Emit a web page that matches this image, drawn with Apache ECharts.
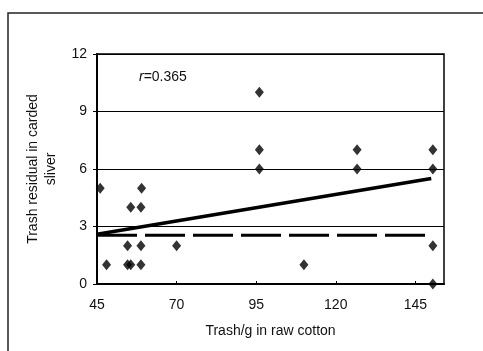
<!DOCTYPE html>
<html>
<head>
<meta charset="utf-8">
<script src="https://cdn.jsdelivr.net/npm/echarts@6/dist/echarts.min.js"></script>
<style>
html,body{margin:0;padding:0;background:#fff;}
#c{width:483px;height:351px;}
</style>
</head>
<body>
<div id="c"></div>
<script>
// Scatter points: x = trash/g in raw cotton, y = trash residual in carded sliver
var pointsX = [46, 59, 55.6, 58.8, 54.6, 58.8, 70, 48, 54.6, 55.6, 58.8, 96, 96, 96, 126.7, 126.7, 150.5, 150.5, 150.5, 110, 150.5];
var pointsY = [5, 5, 4, 4, 2, 2, 2, 1, 1, 1, 1, 10, 7, 6, 7, 6, 7, 6, 2, 1, 0];
// Regression (solid) line end points
var fitX = [45, 150];
var fitY = [2.6, 5.5];
// Dashed reference line
var refX = [45, 150];
var refY = [2.55, 2.55];
var xTicks = [45, 70, 95, 120, 145];
var yTicks = [0, 3, 6, 9, 12];
var corrLabel = '0.365';

var chart = echarts.init(document.getElementById('c'), null, {renderer: 'canvas'});
var font = 'Liberation Sans';
var scatterData = pointsX.map(function (x, i) { return [x, pointsY[i]]; });
var fitData = fitX.map(function (x, i) { return [x, fitY[i]]; });
var refData = refX.map(function (x, i) { return [x, refY[i]]; });

chart.setOption({
  backgroundColor: '#fff',
  animation: false,
  textStyle: {fontFamily: font},
  grid: {left: 97, right: 39, top: 54, bottom: 67, show: true, borderColor: '#000', borderWidth: 1.5, backgroundColor: 'transparent'},
  xAxis: {
    type: 'value', min: 45, max: 154, interval: 25,
    name: 'Trash/g in raw cotton', nameLocation: 'middle', nameGap: 40,
    nameTextStyle: {color: '#111', fontSize: 14, fontFamily: font},
    axisLine: {lineStyle: {color: '#000', width: 2}},
    axisTick: {show: true, length: 3, inside: true, lineStyle: {color: '#000'}},
    splitLine: {show: false},
    axisLabel: {color: '#111', fontSize: 14, margin: 14, fontFamily: font, showMaxLabel: false,
      formatter: function (v) { return xTicks.indexOf(v) >= 0 ? String(v) : ''; }}
  },
  yAxis: {
    type: 'value', min: 0, max: 12, interval: 3,
    name: 'Trash residual in carded\nsliver', nameLocation: 'middle', nameGap: 36,
    nameTextStyle: {color: '#111', fontSize: 14, fontFamily: font, lineHeight: 18},
    axisLine: {show: true, lineStyle: {color: '#000', width: 2}},
    axisTick: {show: true, length: 4, lineStyle: {color: '#000'}},
    splitLine: {show: true, lineStyle: {color: '#000', width: 1}},
    axisLabel: {color: '#111', fontSize: 14, margin: 10, fontFamily: font,
      formatter: function (v) { return yTicks.indexOf(v) >= 0 ? String(v) : ''; }}
  },
  graphic: [
    {type: 'rect', shape: {x: 8, y: 13, width: 480, height: 345}, style: {fill: 'none', stroke: '#222', lineWidth: 1.5}, silent: true},
    {type: 'text', left: 139, top: 70, style: {
      rich: {i: {fontStyle: 'italic', fontSize: 14, fontFamily: font, fill: '#111'}, n: {fontSize: 14, fontFamily: font, fill: '#111'}},
      text: '{i|r}{n|=' + corrLabel + '}'
    }}
  ],
  series: [
    {type: 'line', data: refData, symbol: 'none', lineStyle: {color: '#000', width: 3, type: [40, 8]}, z: 3},
    {type: 'line', data: fitData, symbol: 'none', lineStyle: {color: '#000', width: 3.5}, z: 4},
    {type: 'scatter', data: scatterData, symbol: 'diamond', symbolSize: [9, 11], itemStyle: {color: '#000'}, z: 5}
  ]
});
</script>
</body>
</html>
